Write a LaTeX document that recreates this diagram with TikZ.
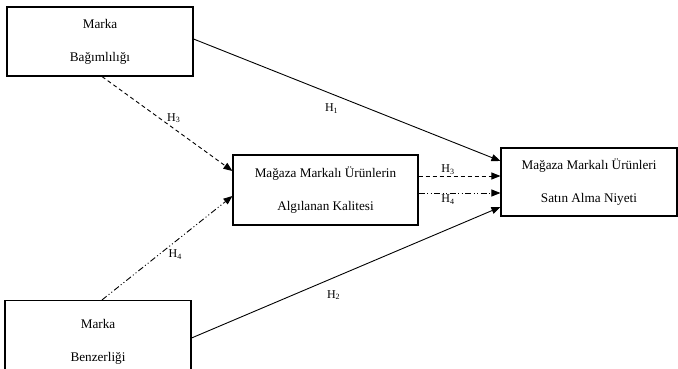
\documentclass[tikz,border=0pt]{standalone}
\usepackage{fontspec}
\setmainfont{Liberation Serif}
\usepackage{tikz}
\usetikzlibrary{arrows.meta}

\tikzset{
  kutu/.style={draw, line width=1.1pt, minimum width=186pt, minimum height=69pt,
    inner sep=0pt, align=center, font=\fontsize{13.2}{33}\selectfont},
  ok/.style={-{Triangle[length=9pt,width=7pt]}, line width=0.9pt},
  kesik/.style={dash pattern=on 4pt off 3pt},
  noktali/.style={dash pattern=on 6pt off 2.5pt on 1pt off 2.5pt on 1pt off 2.5pt},
  etiket/.style={font=\fontsize{12}{12}\selectfont, inner sep=1pt}
}

\begin{document}
\begin{tikzpicture}[x=1pt,y=-1pt]
\useasboundingbox (0,0) rectangle (678,369);
% kutular
\node[kutu] (bagimlilik) at (100,41.5) {Marka\\Bağımlılığı};
\node[kutu, minimum height=83pt] (benzerlik) at (98,342) {Marka\\Benzerliği};
\node[kutu, minimum width=185pt, minimum height=70pt] (kalite) at (325.5,190) {Mağaza Markalı Ürünlerin\\Algılanan Kalitesi};
\node[kutu, minimum width=176pt, minimum height=68pt] (niyet) at (589,182) {Mağaza Markalı Ürünleri\\Satın Alma Niyeti};

% dogrudan etkiler
\draw[ok] ([yshift=2.5pt]bagimlilik.east) -- node[etiket, pos=0.45, below=8pt] (h1) {H\textsubscript{1}} ([yshift=21pt]niyet.west);
\draw[ok] ([yshift=4pt]benzerlik.east) -- node[etiket, pos=0.46, below=11pt] (h2) {H\textsubscript{2}} ([yshift=-25pt]niyet.west);

% aracili etkiler
\draw[ok, kesik] ([xshift=2pt]bagimlilik.south) -- node[etiket, pos=0.55, above=4pt] (h3a) {H\textsubscript{3}} ([yshift=19pt]kalite.west);
\draw[ok, noktali] ([xshift=4pt]benzerlik.north) -- node[etiket, pos=0.5, below right] (h4a) {H\textsubscript{4}} ([yshift=-6pt]kalite.west);

\coordinate (k3) at ([yshift=14pt]kalite.east);
\coordinate (k4) at ([yshift=-3pt]kalite.east);
\draw[ok, kesik] (k3) -- node[etiket, pos=0.36, above] (h3b) {H\textsubscript{3}} (k3 -| niyet.west);
\draw[ok, noktali] (k4) -- node[etiket, pos=0.36, below] (h4b) {H\textsubscript{4}} (k4 -| niyet.west);
\end{tikzpicture}
\end{document}
